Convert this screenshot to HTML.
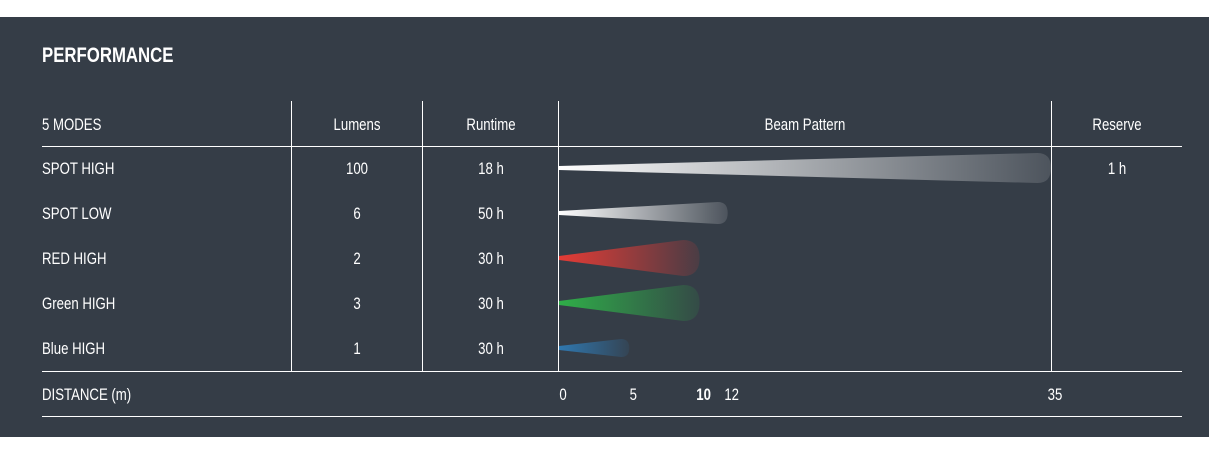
<!DOCTYPE html>
<html><head><meta charset="utf-8"><style>
html,body{margin:0;padding:0;background:#fff;width:1209px;height:461px;overflow:hidden}
svg{display:block}
text{font-family:"Liberation Sans Narrow","Liberation Sans",sans-serif;fill:#fff}
</style></head><body>
<svg width="1209" height="461">
<defs id="defs"></defs>
<rect x="0" y="17" width="1209" height="420" fill="#353d47"/>
<text x="42" y="62" font-size="21" font-weight="bold" transform="translate(42,0) scale(0.8,1) translate(-42,0)">PERFORMANCE</text>
<g id="grid" stroke="#ffffff" stroke-width="1"></g>
<g id="content"></g>
</svg>
<script>
const modes=["SPOT HIGH","SPOT LOW","RED HIGH","Green HIGH","Blue HIGH"];
const lumens=["100","6","2","3","1"];
const runtimes=["18 h","50 h","30 h","30 h","30 h"];
const distances=[35,12,10,10,5];
const reserves=["1 h","","","",""];
const ticks=[0,5,10,12,35];
const beamColors=["#ffffff","#ffffff","#e53b35","#2fae48","#2f78b0"];
const beamHalf=[15,11,18,18,9];

const NS="http://www.w3.org/2000/svg";
const defs=document.getElementById('defs'),grid=document.getElementById('grid'),content=document.getElementById('content');
const x0=559,x1=1051,maxD=35;
function xScale(d){return x0+(x1-x0)*d/maxD;}
function rowY(i){return 168+45*i;}
function mk(tag,attrs,parent){const e=document.createElementNS(NS,tag);for(const k in attrs)e.setAttribute(k,attrs[k]);parent.appendChild(e);return e;}
function txt(x,y,s,anchor,parent){const t=mk('text',{x:x,y:y+6,'font-size':16.5,'text-anchor':anchor,transform:`translate(${x},0) scale(0.8,1) translate(${-x},0)`},parent);t.textContent=s;return t;}

[146.5,371.5,416.5].forEach(y=>{const l=mk('line',{x1:42,x2:1182,y1:y,y2:y},grid);

});
[291.5,422.5,558.5,1051.5].forEach(x=>{const l=mk('line',{x1:x,x2:x,y1:101,y2:371},grid);

});

const hdrs=[["5 MODES",42,"start"],["Lumens",357,"middle"],["Runtime",491,"middle"],["Beam Pattern",805,"middle"],["Reserve",1117,"middle"]];
hdrs.forEach(h=>{const t=txt(h[1],124,h[0],h[2],content);

});

modes.forEach((m,i)=>{
  const y=rowY(i);
  let t=txt(42,y,m,'start',content);
  
  
  t=txt(357,y,lumens[i],'middle',content);
  
  
  t=txt(491,y,runtimes[i],'middle',content);
  
  
  if(reserves[i]){t=txt(1117,y,reserves[i],'middle',content);
  
  }
  const g=mk('linearGradient',{id:'g'+i,x1:0,x2:1,y1:0,y2:0},defs);
  mk('stop',{offset:0,'stop-color':beamColors[i],'stop-opacity':1},g);
  mk('stop',{offset:1,'stop-color':beamColors[i],'stop-opacity':0.12},g);
  const xs=xScale(0),xe=xScale(distances[i]),h=beamHalf[i],r=h*0.9;
  const d=`M${xs},${y-2} L${xe-r},${y-h} Q${xe},${y-h} ${xe},${y} Q${xe},${y+h} ${xe-r},${y+h} L${xs},${y+2} Z`;
  const p=mk('path',{d:d,fill:'url(#g'+i+')'},content);
  
  
});

let t=txt(42,394,"DISTANCE (m)",'start',content);


ticks.forEach(v=>{const tt=txt(xScale(v)+4,394,String(v),'middle',content);


if(v===10)tt.setAttribute('font-weight','bold');});
</script>
</body></html>
